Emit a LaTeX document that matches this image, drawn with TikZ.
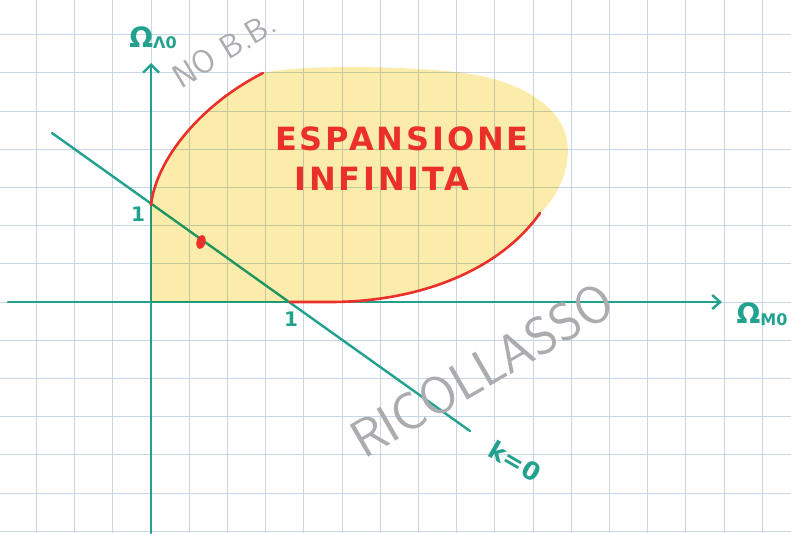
\documentclass[tikz,border=0pt]{standalone}
\usepackage{fontspec}
\newfontfamily\marker{DejaVu Sans}
\newfontfamily\markerbold{DejaVu Sans Bold}
\newfontfamily\markerwide{DejaVu Sans Bold}[LetterSpace=9]
\usetikzlibrary{arrows.meta}
\definecolor{tealink}{RGB}{34,162,142}
\definecolor{redink}{RGB}{234,48,40}
\definecolor{hl}{RGB}{251,236,172}
\definecolor{gridc}{RGB}{200,214,230}
\definecolor{pencil}{RGB}{172,172,176}
\begin{document}
\begin{tikzpicture}[x=1pt,y=-1pt,
  ink/.style={draw=tealink,line width=2.4pt,line cap=round},
  redline/.style={draw=redink,line width=2.6pt,line cap=round},
  gridline/.style={draw=gridc,line width=1pt},
  tealtext/.style={text=tealink,inner sep=0pt},
  redtext/.style={text=redink,inner sep=0pt,font=\markerwide\fontsize{32}{32}\selectfont},
  penciltext/.style={text=pencil,inner sep=0pt}]
\useasboundingbox (0,0) rectangle (791,533);
\fill[white] (0,0) rectangle (791,533);
\begin{scope}
\clip (0,0) rectangle (791,533);
\foreach \k in {-4,...,17} \draw[gridline] ({151+38.2*\k},0) -- ({151+38.2*\k},533);
\foreach \k in {-7,...,6} \draw[gridline] (0,{302+38.2*\k}) -- (791,{302+38.2*\k});
\end{scope}
% coordinates
\coordinate (O) at (151,302);
\coordinate (Ytop) at (151,63);
\coordinate (Ybot) at (151,533);
\coordinate (Xleft) at (8,302);
\coordinate (Xright) at (722,302);
\coordinate (Y1) at (151,205);
\coordinate (X1) at (290,302);
\coordinate (Kstart) at (52,133);
\coordinate (Kend) at (470,431);
% teal ink
\draw[ink,-{Straight Barb[length=8pt,width=16pt]}] (Ybot) -- (Ytop);
\draw[ink,-{Straight Barb[length=8pt,width=14pt]}] (Xleft) -- (Xright);
\draw[ink] (Kstart) -- (Kend);
% highlighter
\begin{scope}[blend mode=multiply]
\fill[hl] (O) -- (Y1) .. controls (156,160) and (200,105) .. (263,73)
  .. controls (300,64) and (420,66) .. (470,74)
  .. controls (520,82) and (560,105) .. (567,140)
  .. controls (572,170) and (555,200) .. (540,213)
  .. controls (500,270) and (420,302) .. (330,302) -- cycle;
\end{scope}
% red curves
\draw[redline] (Y1) .. controls (156,160) and (200,105) .. (263,73);
\draw[redline] (X1) -- (330,302) .. controls (420,302) and (500,270) .. (540,213);
\fill[redink,rotate around={-15:(201,242)}] (201,242) ellipse (4.5 and 7);
% labels
\node[tealtext] (ylab) at (153,38) {\markerbold\fontsize{28}{28}\selectfont Ω\raisebox{-1pt}{\fontsize{16}{16}\selectfont Λ0}};
\node[tealtext] (xlab) at (762,314) {\markerbold\fontsize{28}{28}\selectfont Ω\raisebox{-2pt}{\fontsize{16}{16}\selectfont M0}};
\node[tealtext] (one y) at (138,214) {\markerbold\fontsize{20}{20}\selectfont 1};
\node[tealtext] (one x) at (291,319) {\markerbold\fontsize{20}{20}\selectfont 1};
\node[tealtext,rotate=-30] (kzero) at (515,461) {\markerbold\fontsize{25}{25}\selectfont k=0};
\node[redtext] (esp) at (402,139) {ESPANSIONE};
\node[redtext] (inf) at (382,179) {INFINITA};
\node[penciltext,rotate=31] (nobb) at (224,50) {\sffamily\fontsize{33}{33}\selectfont NO B.B.};
\node[penciltext,rotate=30] (ricol) at (482,370) {\sffamily\fontsize{53}{53}\selectfont RICOLLASSO};
\end{tikzpicture}
\end{document}
